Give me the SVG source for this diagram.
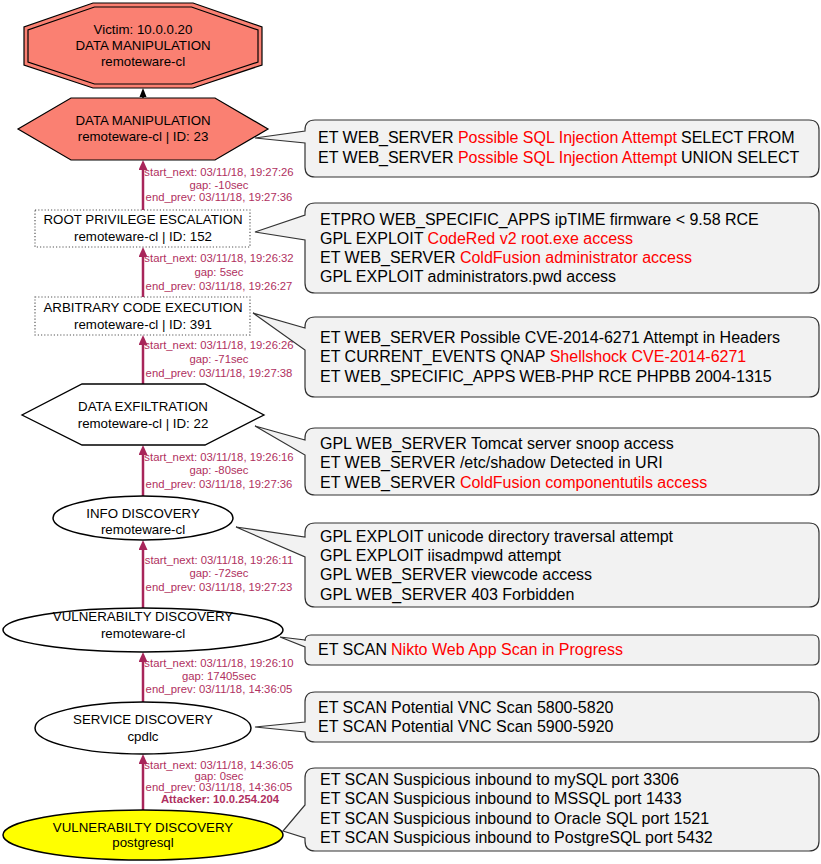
<svg xmlns="http://www.w3.org/2000/svg" width="821" height="864" viewBox="0 0 821 864">
<style>
.nt{font-family:"Liberation Sans",Arial,sans-serif;font-size:13.3px;fill:#000;text-anchor:middle}
.el{font-family:"Liberation Sans",Arial,sans-serif;font-size:11.3px;fill:#b03060;text-anchor:middle}
.ct{font-family:"Liberation Sans",Arial,sans-serif;font-size:16px;fill:#000}
.r{fill:#ff0000}
.edge{stroke:#a8255a;stroke-width:2.5;fill:none}
.co{fill:#f2f2f2;stroke:#333;stroke-width:1.2}
.dot{fill:#fff;stroke:#555;stroke-width:1.2;stroke-dasharray:1.2,2}
</style>
<defs>
<marker id="ah" markerUnits="userSpaceOnUse" markerWidth="10" markerHeight="9" refX="0" refY="4.5" orient="auto" viewBox="0 0 10 9">
<path d="M0,0 L10,4.5 L0,9 z" fill="#a8255a"/>
</marker>
</defs>
<rect width="821" height="864" fill="#fff"/>

<g id="connectors">
<line x1="143" y1="98" x2="143" y2="96" stroke="#000" stroke-width="1.5"/>
<polygon points="143,88 139.5,97 146.5,97" fill="#000"/>
<line class="edge" x1="143" y1="210" x2="143" y2="170" marker-end="url(#ah)"/>
<line class="edge" x1="143" y1="297" x2="143" y2="257" marker-end="url(#ah)"/>
<line class="edge" x1="143" y1="384" x2="143" y2="345" marker-end="url(#ah)"/>
<line class="edge" x1="143" y1="496" x2="143" y2="455" marker-end="url(#ah)"/>
<line class="edge" x1="143" y1="608" x2="143" y2="550" marker-end="url(#ah)"/>
<line class="edge" x1="143" y1="702" x2="143" y2="662" marker-end="url(#ah)"/>
<line class="edge" x1="143" y1="810" x2="143" y2="764" marker-end="url(#ah)"/>
<text class="el" x="219" y="176">start_next: 03/11/18, 19:27:26</text>
<text class="el" x="219" y="189">gap: -10sec</text>
<text class="el" x="219" y="201">end_prev: 03/11/18, 19:27:36</text>
<text class="el" x="219" y="262">start_next: 03/11/18, 19:26:32</text>
<text class="el" x="219" y="276">gap: 5sec</text>
<text class="el" x="219" y="290">end_prev: 03/11/18, 19:26:27</text>
<text class="el" x="219" y="349">start_next: 03/11/18, 19:26:26</text>
<text class="el" x="219" y="363">gap: -71sec</text>
<text class="el" x="219" y="377">end_prev: 03/11/18, 19:27:38</text>
<text class="el" x="219" y="461">start_next: 03/11/18, 19:26:16</text>
<text class="el" x="219" y="474">gap: -80sec</text>
<text class="el" x="219" y="488">end_prev: 03/11/18, 19:27:36</text>
<text class="el" x="219" y="564">start_next: 03/11/18, 19:26:11</text>
<text class="el" x="219" y="577">gap: -72sec</text>
<text class="el" x="219" y="591">end_prev: 03/11/18, 19:27:23</text>
<text class="el" x="219" y="667">start_next: 03/11/18, 19:26:10</text>
<text class="el" x="219" y="680">gap: 17405sec</text>
<text class="el" x="219" y="693">end_prev: 03/11/18, 14:36:05</text>
<text class="el" x="219" y="769">start_next: 03/11/18, 14:36:05</text>
<text class="el" x="219" y="780">gap: 0sec</text>
<text class="el" x="219" y="791">end_prev: 03/11/18, 14:36:05</text>
<text class="el" x="220" y="803" font-weight="bold">Attacker: 10.0.254.204</text>
</g>

<g id="victim">
<polygon points="93,3 193,3 262,27 262,65 193,88 93,88 24,65 24,27" fill="#fa8072" stroke="#000" stroke-width="1.2"/>
<polygon points="94.5,7 191.5,7 258,30 258,62 191.5,84 94.5,84 28,62 28,30" fill="none" stroke="#000" stroke-width="1.2"/>
<text class="nt" x="143" y="34">Victim: 10.0.0.20</text>
<text class="nt" x="143" y="50">DATA MANIPULATION</text>
<text class="nt" x="143" y="66">remoteware-cl</text>
</g>

<g id="n23">
<polygon points="71,98 215,98 268,129 215,160 71,160 18,129" fill="#fa8072" stroke="#000" stroke-width="1.2"/>
<text class="nt" x="143" y="125">DATA MANIPULATION</text>
<text class="nt" x="143" y="141">remoteware-cl | ID: 23</text>
</g>

<g id="n152">
<rect class="dot" x="35" y="210" width="215" height="37"/>
<text class="nt" x="143" y="224">ROOT PRIVILEGE ESCALATION</text>
<text class="nt" x="143" y="241">remoteware-cl | ID: 152</text>
</g>

<g id="n391">
<rect class="dot" x="35" y="297" width="215" height="38"/>
<text class="nt" x="143" y="312">ARBITRARY CODE EXECUTION</text>
<text class="nt" x="143" y="329">remoteware-cl | ID: 391</text>
</g>

<g id="n22">
<polygon points="82,384 205,384 264,415 205,445 82,445 22,415" fill="#fff" stroke="#000" stroke-width="1.3"/>
<text class="nt" x="143" y="411">DATA EXFILTRATION</text>
<text class="nt" x="143" y="428">remoteware-cl | ID: 22</text>
</g>

<g id="info">
<ellipse cx="143" cy="518" rx="90" ry="22" fill="#fff" stroke="#000" stroke-width="1.5"/>
<text class="nt" x="143" y="518">INFO DISCOVERY</text>
<text class="nt" x="143" y="534">remoteware-cl</text>
</g>

<g id="vuln">
<ellipse cx="143" cy="630" rx="140" ry="22" fill="#fff" stroke="#000" stroke-width="1.5"/>
<text class="nt" x="143" y="621">VULNERABILTY DISCOVERY</text>
<text class="nt" x="143" y="638">remoteware-cl</text>
</g>

<g id="service">
<ellipse cx="143" cy="728" rx="108" ry="26" fill="#fff" stroke="#000" stroke-width="1.5"/>
<text class="nt" x="143" y="724">SERVICE DISCOVERY</text>
<text class="nt" x="143" y="741">cpdlc</text>
</g>

<g id="attacker">
<ellipse cx="143" cy="835" rx="140" ry="25" fill="#ffff00" stroke="#000" stroke-width="1.5"/>
<text class="nt" x="143" y="832">VULNERABILTY DISCOVERY</text>
<text class="nt" x="143" y="847">postgresql</text>
</g>

<g id="callout1">
<path class="co" d="M315,120 H809 Q819,120 819,130 V167 Q819,177 809,177 H315 Q305,177 305,167 V143 L255,138 L305,131 V130 Q305,120 315,120 Z"/>
<text class="ct" x="318" y="143">ET WEB_SERVER <tspan class="r">Possible SQL Injection Attempt</tspan><tspan dx="4">SELECT FROM</tspan></text>
<text class="ct" x="318" y="163">ET WEB_SERVER <tspan class="r">Possible SQL Injection Attempt</tspan><tspan dx="4">UNION SELECT</tspan></text>
</g>

<g id="callout2">
<path class="co" d="M315,203 H809 Q819,203 819,213 V283 Q819,293 809,293 H315 Q305,293 305,283 V240 L255,232 L305,215 V213 Q305,203 315,203 Z"/>
<text class="ct" x="320" y="225">ETPRO WEB_SPECIFIC_APPS ipTIME firmware &lt; 9.58 RCE</text>
<text class="ct" x="320" y="244">GPL EXPLOIT <tspan class="r">CodeRed v2 root.exe access</tspan></text>
<text class="ct" x="320" y="263">ET WEB_SERVER <tspan class="r">ColdFusion administrator access</tspan></text>
<text class="ct" x="320" y="282">GPL EXPLOIT administrators.pwd access</text>
</g>

<g id="callout3">
<path class="co" d="M315,317 H809 Q819,317 819,327 V387 Q819,397 809,397 H315 Q305,397 305,387 V350 L253,313 L305,328 V327 Q305,317 315,317 Z"/>
<text class="ct" x="320" y="343">ET WEB_SERVER Possible CVE-2014-6271 Attempt in Headers</text>
<text class="ct" x="320" y="362">ET CURRENT_EVENTS QNAP <tspan class="r">Shellshock CVE-2014-6271</tspan></text>
<text class="ct" x="320" y="382">ET WEB_SPECIFIC_APPS<tspan dx="4">WEB-PHP RCE PHPBB 2004-1315</tspan></text>
</g>

<g id="callout4">
<path class="co" d="M315,428 H809 Q819,428 819,438 V485 Q819,495 809,495 H315 Q305,495 305,485 V455 L255,426 L305,440 V438 Q305,428 315,428 Z"/>
<text class="ct" x="320" y="449">GPL WEB_SERVER Tomcat server snoop access</text>
<text class="ct" x="320" y="468">ET WEB_SERVER /etc/shadow Detected in URI</text>
<text class="ct" x="320" y="488">ET WEB_SERVER <tspan class="r">ColdFusion componentutils access</tspan></text>
</g>

<g id="callout5">
<path class="co" d="M315,523 H809 Q819,523 819,533 V597 Q819,607 809,607 H315 Q305,607 305,597 V557 L236,527 L305,537 V533 Q305,523 315,523 Z"/>
<text class="ct" x="320" y="542">GPL EXPLOIT unicode directory traversal attempt</text>
<text class="ct" x="320" y="561">GPL EXPLOIT iisadmpwd attempt</text>
<text class="ct" x="320" y="580">GPL WEB_SERVER viewcode access</text>
<text class="ct" x="320" y="600">GPL WEB_SERVER 403 Forbidden</text>
</g>

<g id="callout6">
<path class="co" d="M311,635 H813 Q819,635 819,641 V659 Q819,665 813,665 H311 Q305,665 305,659 V647 L280,637 L305,640 V641 Q305,635 311,635 Z"/>
<text class="ct" x="318" y="655">ET SCAN<tspan class="r" dx="4">Nikto Web App Scan in Progress</tspan></text>
</g>

<g id="callout7">
<path class="co" d="M315,692 H809 Q819,692 819,702 V732 Q819,742 809,742 H315 Q305,742 305,732 L255,727 L305,722 V702 Q305,692 315,692 Z"/>
<text class="ct" x="318" y="713">ET SCAN<tspan dx="4">Potential VNC Scan 5800-5820</tspan></text>
<text class="ct" x="318" y="732">ET SCAN<tspan dx="4">Potential VNC Scan 5900-5920</tspan></text>
</g>

<g id="callout8">
<path class="co" d="M315,768 H809 Q819,768 819,778 V841 Q819,851 809,851 H315 Q305,851 305,841 V838 L283,831 L305,805 V778 Q305,768 315,768 Z"/>
<text class="ct" x="320" y="785">ET SCAN<tspan dx="4">Suspicious inbound to mySQL port 3306</tspan></text>
<text class="ct" x="320" y="804">ET SCAN<tspan dx="4">Suspicious inbound to MSSQL port 1433</tspan></text>
<text class="ct" x="320" y="824">ET SCAN<tspan dx="4">Suspicious inbound to Oracle SQL port 1521</tspan></text>
<text class="ct" x="320" y="843">ET SCAN<tspan dx="4">Suspicious inbound to PostgreSQL port 5432</tspan></text>
</g>
</svg>
